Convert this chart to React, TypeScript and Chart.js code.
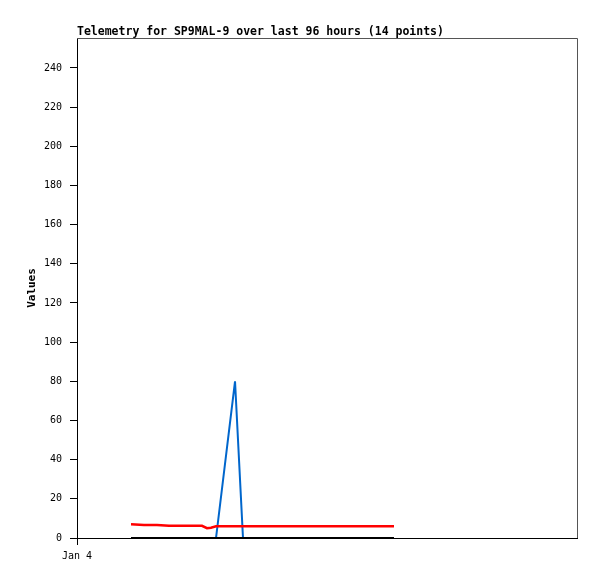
import React, { useEffect, useRef } from "react";
import { Chart, registerables } from "chart.js";

Chart.register(...registerables);

// hours since Jan 4 00:00
const hours = [10.37, 12.86, 15.36, 17.66, 24.0, 24.96, 25.73, 26.69, 30.34, 31.87, 38.98, 46.66, 54.34, 60.86];
const redValues = [7.0, 6.7, 6.6, 6.3, 6.2, 5.0, 5.2, 6.0, 6.0, 6.0, 6.0, 6.0, 6.0, 6.0];
const blueValues = [0, 0, 0, 0, 0, 0, 0, 0, 80, 0, 0, 0, 0, 0];
const blackValues = [0, 0, 0, 0, 0, 0, 0, 0, 0, 0, 0, 0, 0, 0];
const xTickLabels = ["Jan 4"];
const xTickValues = [0];

const titleText = "Telemetry for SP9MAL-9 over last 96 hours (14 points)";

const frame = {
  id: "frame",
  afterDraw(chart: any) {
    const { ctx, chartArea } = chart;
    ctx.save();
    ctx.strokeStyle = "#555555";
    ctx.lineWidth = 1;
    ctx.beginPath();
    ctx.moveTo(chartArea.left, chartArea.top + 0.5);
    ctx.lineTo(chartArea.right + 0.5, chartArea.top + 0.5);
    ctx.lineTo(chartArea.right + 0.5, chartArea.bottom);
    ctx.stroke();
    ctx.fillStyle = "#000";
    ctx.font = "bold 11.5px 'DejaVu Sans Mono', monospace";
    ctx.textBaseline = "alphabetic";
    ctx.textAlign = "left";
    ctx.fillText(titleText, chartArea.left, 35);
    ctx.restore();
  },
};

export default function App() {
  const ref = useRef<HTMLCanvasElement>(null);
  useEffect(() => {
    const mk = (vals: number[]) => hours.map((h, i) => ({ x: h, y: vals[i] }));
    const chart = new Chart(ref.current!, {
      type: "line",
      data: {
        datasets: [
          { label: "black", data: mk(blackValues), borderColor: "#000000", borderWidth: 2, pointRadius: 0, order: 0 },
          { label: "red", data: mk(redValues), borderColor: "#ff0000", borderWidth: 2.5, pointRadius: 0, order: 1 },
          { label: "blue", data: mk(blueValues), borderColor: "#0066cc", borderWidth: 2, pointRadius: 0, order: 2 },
        ],
      },
      options: {
        animation: false,
        responsive: false,
        layout: { padding: { left: 0, top: 38, right: 20, bottom: 0 } },
        plugins: { legend: { display: false }, tooltip: { enabled: false }, title: { display: false } },
        scales: {
          x: {
            type: "linear",
            min: 0,
            max: 96,
            afterFit: (s: any) => { s.height = 41; },
            afterBuildTicks: (s: any) => { s.ticks = xTickValues.map((v) => ({ value: v })); },
            ticks: {
              callback: (v: any) => xTickLabels[xTickValues.indexOf(Number(v))] ?? "",
              font: { family: "'DejaVu Sans Mono', monospace", size: 10 },
              color: "#000",
              padding: 5,
              maxRotation: 0,
            },
            grid: { display: true, drawOnChartArea: false, drawTicks: true, tickLength: 7, color: "#000" },
            border: { display: true, color: "#000", width: 1 },
          },
          y: {
            type: "linear",
            min: 0,
            max: 255.3,
            afterFit: (s: any) => { s.width = 77; },
            ticks: {
              stepSize: 20,
              includeBounds: false,
              font: { family: "'DejaVu Sans Mono', monospace", size: 10 },
              color: "#000",
              padding: 8,
            },
            grid: { display: true, drawOnChartArea: false, drawTicks: true, tickLength: 7, color: "#000" },
            border: { display: true, color: "#000", width: 1 },
            title: {
              display: true,
              text: "Values",
              color: "#000",
              font: { family: "'DejaVu Sans Mono', monospace", size: 11, weight: "bold" },
              padding: { top: 26, bottom: 0 },
            },
          },
        },
      },
      plugins: [frame],
    } as any);
    return () => chart.destroy();
  }, []);
  return (
    <div style={{ position: "absolute", left: 0, top: 0, width: 597, height: 579, background: "#fff" }}>
      <canvas ref={ref} width={597} height={579} style={{ display: "block" }} />
    </div>
  );
}
